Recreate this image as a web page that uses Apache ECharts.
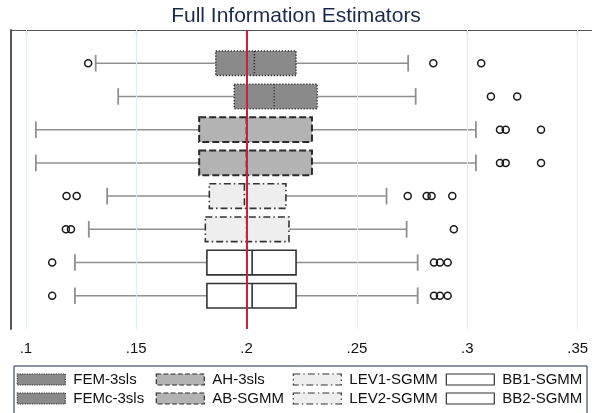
<!DOCTYPE html>
<html>
<head>
<meta charset="utf-8">
<title>Full Information Estimators</title>
<script src="https://cdn.jsdelivr.net/npm/echarts@6/dist/echarts.min.js"></script>
<style>
  html, body { margin: 0; padding: 0; background: #ffffff; }
  #chart { width: 592px; height: 413px; }
</style>
</head>
<body>
<div id="chart"></div>
<script>
// Estimators, top to bottom
const estimators = ['FEM-3sls', 'FEMc-3sls', 'AH-3sls', 'AB-SGMM', 'LEV1-SGMM', 'LEV2-SGMM', 'BB1-SGMM', 'BB2-SGMM'];

// Box-plot summaries for each estimator
const lowerWhisker  = [0.1316, 0.1418, 0.1045, 0.1045, 0.1368, 0.1285, 0.1222, 0.1222];
const lowerQuartile = [0.1860, 0.1944, 0.1785, 0.1785, 0.1831, 0.1813, 0.1820, 0.1820];
const medianValue   = [0.2035, 0.2125, 0.2000, 0.2000, 0.1990, 0.2000, 0.2025, 0.2025];
const upperQuartile = [0.2224, 0.2320, 0.2296, 0.2296, 0.2178, 0.2192, 0.2224, 0.2224];
const upperWhisker  = [0.2732, 0.2766, 0.3039, 0.3039, 0.2634, 0.2725, 0.2775, 0.2775];

// Outside values per estimator
const outsideValues = [
  [0.1282, 0.2846, 0.3063],
  [0.3107, 0.3226],
  [0.3148, 0.3174, 0.3334],
  [0.3148, 0.3174, 0.3334],
  [0.1184, 0.1230, 0.2730, 0.2816, 0.2838, 0.2932],
  [0.1181, 0.1204, 0.2939],
  [0.1119, 0.2849, 0.2876, 0.2911],
  [0.1119, 0.2849, 0.2876, 0.2911]
];

// Reference value (true parameter)
const trueValue = 0.2;

// x-axis ticks
const tickValues = [0.1, 0.15, 0.2, 0.25, 0.3, 0.35];
const tickLabels = ['.1', '.15', '.2', '.25', '.3', '.35'];

// Box styles by estimator family
const boxStyles = [
  { fill: '#8a8a8a', stroke: '#2b2b2b', width: 1.5, dash: [1.2, 1.8], legendType: 'dotted' },
  { fill: '#8a8a8a', stroke: '#2b2b2b', width: 1.5, dash: [1.2, 1.8], legendType: 'dotted' },
  { fill: '#b3b3b3', stroke: '#2b2b2b', width: 2,   dash: [7, 3],     legendType: 'dashed' },
  { fill: '#b3b3b3', stroke: '#2b2b2b', width: 2,   dash: [7, 3],     legendType: 'dashed' },
  { fill: '#eeeeee', stroke: '#333333', width: 1.6, dash: [7, 3, 1.5, 3], legendType: [7, 3, 1.5, 3] },
  { fill: '#eeeeee', stroke: '#333333', width: 1.6, dash: [7, 3, 1.5, 3], legendType: [7, 3, 1.5, 3] },
  { fill: '#ffffff', stroke: '#333333', width: 1.6, dash: null,   legendType: 'solid' },
  { fill: '#ffffff', stroke: '#333333', width: 1.6, dash: null,   legendType: 'solid' }
];

const whiskerColor = '#909090';
const fontFamily = '"Liberation Sans", Arial, sans-serif';

function makeBoxRenderer(style) {
  return function (params, api) {
    const row = api.value(0);
    const lw = api.value(1), q1 = api.value(2), med = api.value(3), q3 = api.value(4), uw = api.value(5);
    const step = api.size([0, 1])[1];
    const boxH = step * 0.74;
    const capH = step * 0.5;
    const pLw = api.coord([lw, row]);
    const pQ1 = api.coord([q1, row]);
    const pMed = api.coord([med, row]);
    const pQ3 = api.coord([q3, row]);
    const pUw = api.coord([uw, row]);
    const y = pQ1[1];
    const whiskerStyle = { stroke: whiskerColor, lineWidth: 1.5 };
    const dashStyle = style.dash ? { lineDash: style.dash } : {};
    return {
      type: 'group',
      children: [
        { type: 'line', shape: { x1: pLw[0], y1: y, x2: pQ1[0], y2: y }, style: whiskerStyle },
        { type: 'line', shape: { x1: pQ3[0], y1: y, x2: pUw[0], y2: y }, style: whiskerStyle },
        { type: 'line', shape: { x1: pLw[0], y1: y - capH / 2, x2: pLw[0], y2: y + capH / 2 }, style: { stroke: whiskerColor, lineWidth: 1.8 } },
        { type: 'line', shape: { x1: pUw[0], y1: y - capH / 2, x2: pUw[0], y2: y + capH / 2 }, style: { stroke: whiskerColor, lineWidth: 1.8 } },
        {
          type: 'rect',
          shape: { x: pQ1[0], y: y - boxH / 2, width: pQ3[0] - pQ1[0], height: boxH },
          style: Object.assign({ fill: style.fill, stroke: style.stroke, lineWidth: style.width }, dashStyle)
        },
        {
          type: 'line',
          shape: { x1: pMed[0], y1: y - boxH / 2, x2: pMed[0], y2: y + boxH / 2 },
          style: Object.assign({ stroke: style.stroke, lineWidth: style.width }, dashStyle)
        }
      ]
    };
  };
}

const boxSeries = estimators.map(function (name, i) {
  return {
    name: name,
    type: 'custom',
    z: 3,
    renderItem: makeBoxRenderer(boxStyles[i]),
    encode: { x: [1, 2, 3, 4, 5], y: 0 },
    itemStyle: { color: boxStyles[i].fill, borderColor: boxStyles[i].stroke },
    data: [[i + 1, lowerWhisker[i], lowerQuartile[i], medianValue[i], upperQuartile[i], upperWhisker[i]]]
  };
});

const outsidePoints = [];
outsideValues.forEach(function (vals, i) {
  vals.forEach(function (v) { outsidePoints.push([v, i + 1]); });
});

const gridLines = tickValues.map(function (v) {
  return { xAxis: v, lineStyle: { color: '#e4ecf1', width: 1, type: 'solid' } };
});
gridLines.push({ xAxis: trueValue, lineStyle: { color: '#cc1f40', width: 2, type: 'solid' } });

const outsideSeries = {
  name: 'outside',
  type: 'scatter',
  z: 1,
  symbol: 'circle',
  symbolSize: 7,
  silent: true,
  itemStyle: { color: 'rgba(0,0,0,0)', borderColor: '#1a1a1a', borderWidth: 1.5, opacity: 1 },
  data: outsidePoints,
  markLine: {
    silent: true,
    symbol: 'none',
    label: { show: false },
    animation: false,
    data: gridLines
  }
};

function legendFor(names, idx, left) {
  return {
    orient: 'vertical',
    left: left,
    top: 372,
    padding: 0,
    itemGap: 4,
    itemWidth: 48,
    itemHeight: 11,
    icon: 'rect',
    selectedMode: false,
    textStyle: { fontSize: 15, fontFamily: fontFamily, color: '#111111', lineHeight: 15, padding: [0, 0, 0, 3] },
    data: names.map(function (n, k) {
      const s = boxStyles[idx[k]];
      return {
        name: n,
        icon: 'rect',
        itemStyle: { color: s.fill, borderColor: s.stroke, borderWidth: 1.2, borderType: s.legendType }
      };
    })
  };
}

const chart = echarts.init(document.getElementById('chart'), null, { renderer: 'canvas' });

chart.setOption({
  animation: false,
  backgroundColor: '#ffffff',
  title: {
    text: 'Full Information Estimators',
    left: 'center',
    top: 6,
    padding: 0,
    textStyle: { fontSize: 21, fontWeight: 'normal', color: '#1b2a4a', fontFamily: fontFamily }
  },
  legend: [
    legendFor([estimators[0], estimators[1]], [0, 1], 16.7),
    legendFor([estimators[2], estimators[3]], [2, 3], 155.7),
    legendFor([estimators[4], estimators[5]], [4, 5], 292.7),
    legendFor([estimators[6], estimators[7]], [6, 7], 445.7)
  ],
  graphic: [{
    type: 'rect',
    silent: true,
    shape: { x: 14, y: 366, width: 573, height: 60 },
    style: { fill: 'none', stroke: '#1b2a4a', lineWidth: 1 }
  }],
  grid: { left: 10.7, right: 0, top: 30, bottom: 84, containLabel: false },
  xAxis: {
    type: 'value',
    min: 0.0931,
    max: 0.3565,
    axisLine: { show: true, lineStyle: { color: '#555555', width: 1.2 } },
    axisTick: { show: true, length: 5, customValues: tickValues, lineStyle: { color: '#555555', width: 1.2 } },
    axisLabel: {
      show: true,
      customValues: tickValues,
      margin: 12,
      fontSize: 15,
      fontFamily: fontFamily,
      color: '#111111',
      formatter: function (v) {
        let best = 0;
        tickValues.forEach(function (t, k) {
          if (Math.abs(t - v) < Math.abs(tickValues[best] - v)) best = k;
        });
        return tickLabels[best];
      }
    },
    splitLine: { show: false }
  },
  yAxis: {
    type: 'value',
    min: 0,
    max: estimators.length + 1,
    inverse: true,
    axisLine: { show: true, onZero: false, lineStyle: { color: '#555555', width: 2 } },
    axisTick: { show: false },
    axisLabel: { show: false },
    splitLine: { show: false }
  },
  series: [outsideSeries].concat(boxSeries)
});
</script>
</body>
</html>
